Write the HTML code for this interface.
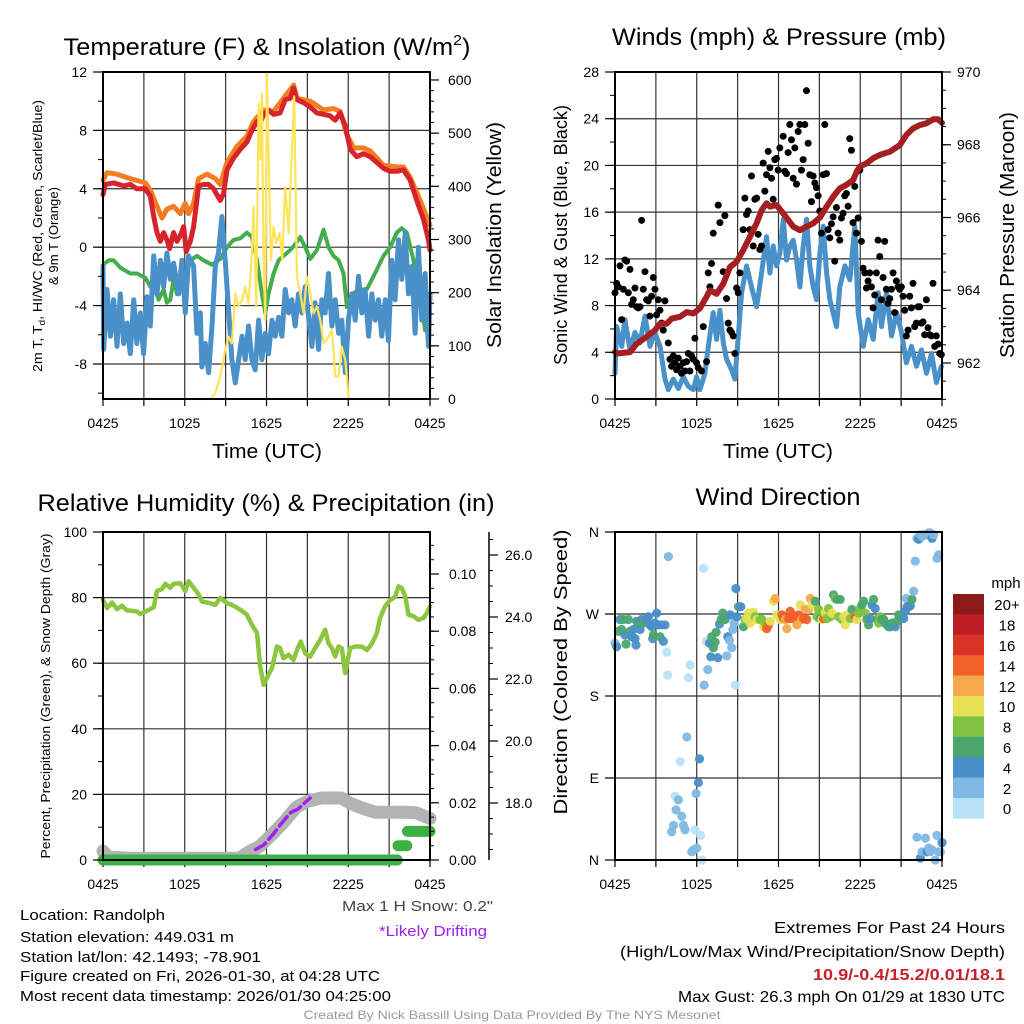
<!DOCTYPE html>
<html><head><meta charset="utf-8"><style>
html,body{margin:0;padding:0;background:#fff;}
svg{display:block;font-family:"Liberation Sans",sans-serif;}
</style></head><body>
<svg id="chart" width="1024" height="1024" viewBox="0 0 1024 1024" xmlns="http://www.w3.org/2000/svg"></svg>
<script>
// ---------------- DATA ----------------
const timeTickHours=[0,6,12,18,24];
const timeTickLabels=['0425','1025','1625','2225','0425'];
// Temperature panel
const tempTicks=[-8,-4,0,4,8,12];
const solarTicks=[0,100,200,300,400,500,600];
const t2Hours=[0,0.17,0.78,1.52,2.0,2.49,3.11,3.47,3.72,3.96,4.21,4.45,4.69,4.89,5.18,5.43,5.67,5.92,6.11,6.41,6.65,7.02,7.38,7.75,8.12,8.36,8.61,8.85,9.1,9.58,10.07,10.56,10.93,11.3,11.54,11.79,12.15,12.52,13.0,13.37,13.74,13.99,14.23,14.72,15.21,15.7,16.19,16.67,17.04,17.41,17.78,18.14,18.63,19.12,19.61,20.1,20.59,21.08,21.56,22.05,22.54,23.03,23.52,23.89,24];
const t2Vals=[3.6,4.3,4.4,4.2,4.3,4.0,4.0,3.5,2.1,1.0,0.4,1.0,0.5,-0.1,1.0,0.4,0.8,1.4,-0.3,0.4,1.4,4.2,4.3,4.3,4.0,3.6,3.2,3.7,5.3,6.1,6.7,7.2,8.0,8.6,8.5,9.1,9.4,9.1,9.2,10.1,10.2,10.9,10.1,9.9,9.6,9.2,9.1,9.0,8.7,9.2,8.3,6.7,6.2,6.4,6.2,5.8,5.4,5.2,5.2,5.3,4.6,3.2,1.9,0.5,-0.2];
const t9Hours=[0,0.29,1.03,2.0,3.11,3.47,3.96,4.33,4.69,5.18,5.67,6.04,6.28,6.65,7.02,7.63,8.24,8.61,9.1,9.83,10.56,11.05,11.79,12.52,13.25,13.99,14.23,15.21,16.19,16.92,17.41,17.9,18.39,19.12,19.61,20.59,21.56,22.05,22.54,23.28,24];
const t9Vals=[4.6,5.1,5.0,4.7,4.4,3.9,2.8,2.0,2.6,2.8,2.3,3.0,2.3,3.0,4.7,5.0,4.7,4.3,5.8,6.9,7.6,8.6,9.4,9.3,10.2,11.1,10.2,10.0,9.4,9.5,9.3,7.7,6.8,6.8,6.6,5.6,5.5,5.5,4.8,3.2,1.5];
const tdHours=[0,0.42,0.78,1.27,2.0,2.49,3.11,3.47,3.84,4.08,4.45,4.69,4.94,5.18,5.43,5.92,6.41,6.89,7.38,7.99,8.61,9.1,9.58,10.07,10.56,10.93,11.3,11.66,11.91,12.15,12.52,12.89,13.25,13.74,14.11,14.47,14.84,15.21,15.7,16.19,16.55,16.92,17.29,17.65,17.9,18.26,18.88,19.36,19.85,20.59,21.08,21.56,21.93,22.3,22.79,23.28,23.64];
const tdVals=[-1.2,-0.9,-0.9,-1.4,-1.8,-1.8,-2.1,-2.7,-2.9,-3.6,-2.9,-3.8,-3.6,-2.2,-3.2,-2.7,-0.9,-0.6,-0.9,-1.2,-0.8,0,0.5,0.6,1.0,0.7,-0.9,-3.2,-4.5,-3.2,-1.8,-0.9,-0.6,-0.2,0.2,0.7,0,-0.8,-0.2,1.2,0,-0.6,-0.9,-1.8,-4.1,-3.2,-2.9,-2.9,-2.0,-0.6,0,1.0,1.3,1.0,-0.9,-3.2,-5.7];
const wcHours=[0,0.05,0.29,0.54,0.78,1.03,1.27,1.52,1.76,2.0,2.25,2.49,2.74,2.98,3.23,3.47,3.72,3.96,4.21,4.45,4.69,4.94,5.18,5.55,5.79,6.04,6.28,6.65,6.89,7.14,7.26,7.51,7.75,8.0,8.24,8.48,8.73,8.97,9.22,9.46,9.71,9.95,10.2,10.44,10.68,10.93,11.17,11.42,11.66,11.91,12.15,12.4,12.64,12.89,13.13,13.37,13.62,13.86,14.11,14.35,14.6,14.84,15.09,15.33,15.57,15.82,16.06,16.31,16.55,16.8,17.04,17.29,17.53,17.78,18.02,18.26,18.51,18.75,19.0,19.24,19.49,19.73,19.98,20.22,20.46,20.71,20.95,21.2,21.44,21.69,21.93,22.18,22.42,22.67,22.91,23.15,23.4,23.64,23.89,24];
const wcVals=[-1.3,-7.0,-2.9,-6.1,-3.6,-6.8,-3.2,-6.6,-5.2,-7.3,-3.6,-6.6,-4.5,-7.3,-3.4,-5.4,-0.6,-3.2,-0.9,-2.7,-0.4,-2.2,-1.1,-3.2,-0.9,-4.5,-0.6,-1.3,-5.9,-4.5,-8.2,-6.6,-8.6,-5.4,-1.3,-0.4,2.1,-0.9,-4.3,-7.7,-9.3,-7.7,-6.1,-7.7,-5.4,-7.7,-8.4,-5.0,-7.7,-5.9,-7.3,-5.0,-6.1,-4.8,-6.1,-2.9,-4.5,-3.6,-5.4,-3.2,-4.5,-2.7,-4.8,-6.8,-3.8,-7.0,-3.6,-4.5,-1.8,-5.4,-3.6,-5.9,-5.0,-8.6,-5.0,-3.2,-5.0,-2.0,-4.5,-2.9,-6.1,-3.2,-5.0,-3.6,-6.1,-3.6,-6.4,-0.9,-3.6,0.5,-2.2,1.0,-3.2,-1.3,-5.9,0,-5.0,-1.8,-6.8,-3.2];
const solarHours=[0,7.87,8.24,8.61,8.97,9.22,9.46,9.71,9.95,10.2,10.44,10.68,10.93,11.05,11.25,11.42,11.54,11.66,11.79,11.91,12.03,12.18,12.32,12.52,12.71,12.96,13.15,13.37,13.62,13.86,14.03,14.23,14.47,14.72,14.96,15.21,15.45,15.7,15.94,16.19,16.43,16.8,17.04,17.29,17.53,17.78,18.02,18.14,24];
const solarVals=[0,0,11,42,92,117,105,199,174,186,211,180,274,362,174,556,450,575,261,149,613,431,261,324,293,312,261,399,312,462,569,230,199,161,230,199,161,174,149,105,111,130,42,42,98,73,4,0,0];
// Wind panel
const windTicks=[0,4,8,12,16,20,24,28];
const presTicks=[962,964,966,968,970];
const presHours=[0,0.12,1.1,1.59,2.32,2.93,3.3,3.79,4.16,4.77,5.26,5.75,6.23,6.72,6.97,7.46,7.95,8.44,8.92,9.41,9.9,10.39,10.76,11.12,11.37,11.86,12.35,13.08,13.57,14.06,14.55,15.04,15.53,16.01,16.5,16.99,17.48,17.73,17.97,18.46,18.95,19.44,20.17,20.9,21.39,21.88,22.37,22.86,23.35,23.72,24];
const presVals=[962.3,962.26,962.3,962.53,962.72,962.9,963.08,963.08,963.22,963.27,963.4,963.36,963.5,963.82,964.0,963.9,964.18,964.64,964.78,965.1,965.47,965.84,966.2,966.39,966.3,966.34,966.11,965.75,965.65,965.75,965.84,966.0,966.3,966.57,966.8,966.9,967.03,967.26,967.4,967.49,967.63,967.72,967.81,967.99,968.27,968.45,968.54,968.59,968.7,968.7,968.6];
const windHours=[0,0.12,0.49,0.73,1.1,1.47,1.83,2.2,2.57,2.93,3.3,3.67,3.91,4.28,4.65,5.01,5.38,5.75,5.99,6.23,6.6,6.85,7.21,7.46,7.7,7.95,8.19,8.56,8.8,9.05,9.29,9.66,10.02,10.39,10.76,11.12,11.37,11.61,11.86,12.1,12.35,12.59,12.84,13.08,13.33,13.57,13.81,14.06,14.3,14.55,14.79,15.04,15.28,15.53,15.77,16.01,16.26,16.5,16.87,17.24,17.6,17.85,18.22,18.58,18.95,19.32,19.56,19.93,20.29,20.66,21.03,21.39,21.76,22.13,22.49,22.86,23.23,23.59,23.96];
const windVals=[2.2,6.2,4.5,6.8,4.2,5.7,4.8,7.1,4.5,5.7,4.5,1.7,0.8,1.7,0.9,1.9,1.1,0.8,1.9,0.8,2.2,4.5,7.4,5.1,7.6,4.8,3.4,2.5,1.7,5.4,9.1,11.4,9.6,7.9,10.8,13.9,10.8,13.1,11.4,12.5,15.4,11.9,13.1,13.6,11.9,9.6,13.1,15.4,11.4,9.6,8.5,12.5,14.8,10.8,8.5,7.4,6.2,9.6,11.4,10.2,14.8,7.4,4.5,6.8,5.1,9.1,6.2,9.1,5.4,7.4,5.7,3.1,4.5,2.8,4.2,2.2,3.9,1.4,2.8];
const gustStartHour=0;
const gustStepHours=0.1222;
const gustVals=[9.1,9.9,9.6,11.4,6.8,9.4,11.9,11.8,9.1,11.1,8.1,8.5,9.5,7.9,7.8,7.9,15.3,9.4,10.9,8.5,8.4,7.1,8.8,10.4,9.4,7.2,8.5,7.6,6.5,5.9,8.4,null,4.8,3.4,2.8,3.7,3.1,2.5,3.5,2.8,2.2,3.1,2.4,3.2,3.9,2.4,3.7,3.4,5.2,3.1,2.7,null,2.4,6.2,null,3.2,10.8,9.6,11.6,14.2,null,9.1,16.6,15.1,null,10.9,15.7,8.6,6.5,5.9,5.7,5.4,3.9,9.5,9.1,10.8,null,14.5,17.2,15.8,16.1,14.5,19.1,13.1,17.1,17.2,14.1,12.8,13.1,20.2,17.8,19.2,21.2,19.8,18.9,17.1,20.5,20.6,19.6,21.5,null,22.5,19.5,19.3,21.1,23.5,22.2,18.9,21.5,18.4,22.9,23.5,19.6,20.5,23.5,26.4,21.9,19.2,16.9,19.1,18.5,18.1,17.4,16.1,14.2,19.2,23.5,19.3,14.5,13.8,15.0,15.6,11.8,16.4,14.2,13.6,15.5,15.9,17.4,17.6,16.5,22.3,21.3,15.1,18.2,14.2,15.5,19.6,13.5,11.2,10.8,9.5,10.1,10.8,9.6,7.8,8.9,10.8,13.6,12.2,8.5,10.4,13.5,9.4,8.2,8.6,9.4,10.8,7.4,10.1,9.6,9.4,9.6,8.8,7.6,5.4,5.9,8.8,7.8,9.9,6.2,6.5,7.9,7.9,6.5,6.6,5.5,8.5,6.1,5.5,5.4,9.9,4.5,5.4,4.7,3.9,3.8];
// RH / precip / snow panel
const rhTicks=[0,20,40,60,80,100];
const precipTicks=[0,0.02,0.04,0.06,0.08,0.10];
const snowTicks=[18,20,22,24,26];
const rhHours=[0,0.3,0.66,1.03,1.39,1.76,2.49,2.74,3.23,3.72,3.96,4.33,4.57,4.94,5.18,5.67,6.04,6.28,6.65,7.02,7.26,7.87,8.24,8.6,9.1,9.46,10.07,10.56,10.93,11.3,11.54,11.79,12.15,12.4,12.76,13.0,13.25,13.62,13.98,14.23,14.52,14.84,15.2,15.57,15.94,16.3,16.55,16.8,17.04,17.28,17.53,17.77,18.14,18.5,19.0,19.36,19.73,20.1,20.34,20.7,21.08,21.44,21.69,21.93,22.18,22.42,22.79,23.16,23.52,23.77,24];
const rhVals=[79.3,76.8,78.5,76.5,77.5,76.1,75.8,75,76,77,82,82.6,84.2,83,84.2,84.4,82,85,83,81,78.8,78.3,77.8,79.9,78.3,77.8,76.3,74.8,71.7,69.2,59,53.4,56.5,58.5,65.1,64.6,61.5,62.6,61,64,66.6,63,62,64.6,67.1,70.2,66.1,64.6,62,65.1,64.6,57,64.6,65.1,65.1,64,65.9,69.2,73.8,77.3,79.3,80.2,83.4,82.9,80.4,74.8,74.3,73.2,73.8,75.3,77.3];
const snowHours=[0,0.4,2,4,6,8,10,10.8,11.5,12.5,13.3,14.2,15,16,17.5,18.1,19,20,21,22.3,23,24];
const snowVals=[16.45,16.25,16.22,16.22,16.22,16.22,16.22,16.45,16.6,17.03,17.4,17.87,18.05,18.16,18.16,18.0,17.84,17.7,17.7,17.7,17.68,17.5];
const driftHours=[11.2,11.8,12.5,13.2,13.8,14.3,14.8,15.2];
const driftVals=[16.5,16.65,17.0,17.4,17.7,17.8,18.0,18.16];
const precipHours=[0,21.6,21.65,22.3,22.35,24];
const precipVals=[0,0,0.005,0.005,0.01,0.01];
// Wind direction panel
const dirTickDeg=[0,90,180,270,360];
const dirTickLabels=['N','E','S','W','N'];
const speedBinLabels=['0','2','4','6','8','10','12','14','16','18','20+'];
const dirHours=[0,0.12,0.24,0.37,0.49,0.61,0.73,0.81,0.98,1.10,1.22,1.35,1.47,1.54,1.59,1.71,1.84,1.96,2.08,2.20,2.33,2.45,2.57,2.69,2.77,2.82,2.94,3.06,3.18,3.31,3.43,3.55,3.67,3.80,3.92,3.87,
4.41,4.16,4.29,4.48,4.65,4.78,4.90,5.02,5.14,5.27,5.39,5.51,5.63,5.76,5.88,5.95,6.00,6.12,6.20,6.29,6.37,6.49,6.54,6.69,6.81,6.93,7.03,7.10,7.22,7.35,7.42,7.54,7.67,7.79,7.91,8.08,8.20,8.28,8.40,8.45,8.57,8.65,8.74,8.82,8.87,8.94,9.06,9.23,
9.43,9.55,9.67,9.80,9.92,10.04,10.16,10.29,10.41,10.65,10.78,10.90,11.02,11.14,11.27,11.39,11.63,11.76,11.88,12.12,12.25,12.37,12.49,12.61,12.74,12.86,12.98,13.10,13.23,13.35,13.47,13.59,13.72,13.84,13.96,14.08,14.21,14.33,14.45,14.57,14.70,14.82,14.94,15.06,15.18,15.31,15.43,15.55,15.67,15.80,15.92,16.04,16.16,16.29,16.41,16.53,16.65,16.78,16.90,17.02,17.14,17.27,17.39,17.51,17.63,17.76,17.88,18.00,18.12,18.25,18.37,18.49,18.61,18.74,18.86,18.98,19.10,19.23,19.35,19.47,19.59,19.72,19.84,19.96,20.08,20.21,20.33,20.45,20.57,20.70,20.82,20.94,21.06,
21.19,21.31,21.38,21.43,21.55,21.68,21.80,21.92,22.04,22.16,22.29,22.41,22.53,22.65,22.90,23.02,23.14,23.27,23.39,23.63,23.76,22.16,22.41,22.53,22.78,22.90,23.02,23.14,23.27,23.51,23.63,23.76,23.88,24.0];
const dirDeg=[238,234,251,264,253,264,247,237,264,251,245,253,243,236,262,260,253,264,260,262,264,267,258,256,243,247,260,271,258,245,258,240,258,228,333,203,
70,31,38,55,66,108,48,38,33,135,200,214,9,11,33,73,13,85,111,27,0,320,192,240,209,238,223,245,233,239,250,222,259,264,271,264,224,245,241,269,233,253,260,192,298,267,278,278,
256,264,265,271,260,269,272,267,264,264,264,256,260,254,258,262,284,287,269,264,269,265,264,254,265,273,265,268,264,258,269,280,264,265,275,264,275,287,280,282,284,267,275,265,264,265,271,265,276,267,271,291,287,286,267,286,264,267,258,269,267,265,275,267,267,264,271,276,280,284,271,264,258,265,280,286,276,264,260,267,264,264,260,258,256,256,260,258,256,262,269,267,269,
265,273,287,278,278,279,286,295,328,353,352,357,355,357,357,359,359,353,357,331,335,25,2,9,24,9,13,9,11,0,27,9,9,19];
const dirSpeed=[3,4,6,4,7,6,5,7,6,6,5,4,4,4,5,7,4,5,6,7,4,4,5,4,4,6,4,4,5,6,4,4,4,1,3,1,
1,2,3,2,2,1,2,3,2,3,1,1,2,3,1,2,3,4,4,1,1,1,2,1,3,4,4,6,6,6,7,4,4,7,6,6,3,4,3,4,3,3,2,1,4,5,6,4,
7,8,10,10,10,10,10,9,10,8,9,10,8,15,14,10,10,12,10,10,14,15,12,12,15,14,14,15,15,12,15,10,12,14,12,14,12,12,10,10,6,8,8,7,10,15,10,9,8,9,10,6,8,7,8,6,9,10,10,10,10,9,6,8,15,10,9,8,7,6,8,6,6,5,4,6,4,7,8,8,7,6,6,6,5,6,7,6,4,6,6,6,7,
5,4,3,4,4,4,6,3,3,3,4,2,2,2,2,3,2,4,2,2,2,3,4,2,2,4,3,2,2,2,2,2,3,4];
</script>
<script>
const NS='http://www.w3.org/2000/svg';
const svg=document.getElementById('chart');
function mk(tag,attrs,parent){const e=document.createElementNS(NS,tag);for(const k in attrs)e.setAttribute(k,attrs[k]);(parent||svg).appendChild(e);return e;}
function txt(s,attrs,parent){const t=mk('text',attrs,parent);t.textContent=s;return t;}
function lin(d0,d1,r0,r1){return v=>r0+(v-d0)*(r1-r0)/(d1-d0);}
const P1={x0:103,x1:430,y0:72,y1:399},P2={x0:615,x1:942,y0:72,y1:399},P3={x0:103,x1:430,y0:532,y1:860},P4={x0:615,x1:942,y0:532,y1:860};
[P1,P2,P3,P4].forEach(P=>{P.x=lin(0,24,P.x0,P.x1);});
const yT=lin(-10.4,12,399,72), yS=lin(0,615,399,72);
const yW=lin(0,28,399,72), yP=lin(961.01,970,399,72);
const yR=lin(0,100,860,532), yPr=lin(0,0.1,860,574), ySn=lin(18,26,803,555);
const yD=lin(0,360,860,532);
function pathD(P,hs,vs,ys){let d='';const n=Math.min(hs.length,vs.length);for(let i=0;i<n;i++){if(vs[i]==null)continue;d+=(d?'L':'M')+P.x(hs[i]).toFixed(1)+','+ys(vs[i]).toFixed(1);}return d;}

function panel(P,name,hTicks,yfun){
  const g=mk('g',{});
  
  
  for(let h=3;h<24;h+=3){const l=mk('line',{x1:P.x(h),x2:P.x(h),y1:P.y0,y2:P.y1,stroke:'#333','stroke-width':1.2},g);}
  hTicks.forEach(v=>{const y=yfun(v);if(Math.abs(y-P.y0)<1||Math.abs(y-P.y1)<1)return;const l=mk('line',{x1:P.x0,x2:P.x1,y1:y,y2:y,stroke:'#333','stroke-width':1.2},g);});
  for(let h=0;h<=24;h+=3){mk('line',{x1:P.x(h),x2:P.x(h),y1:P.y1,y2:P.y1+7,stroke:'#000','stroke-width':1.2},g);}
  timeTickHours.forEach((h,i)=>{const t=txt(timeTickLabels[i],{x:P.x(h),y:P.y1+29,'font-size':14,'text-anchor':'middle',fill:'#000'},g);});
  return g;
}
function frame(P,name){const r=mk('rect',{x:P.x0,y:P.y0,width:P.x1-P.x0,height:P.y1-P.y0,fill:'none',stroke:'#000','stroke-width':2});}
function leftAxis(P,ticks,yfun,labels,minorStep,lo,hi){
  ticks.forEach((v,i)=>{const y=yfun(v);mk('line',{x1:P.x0-10,x2:P.x0,y1:y,y2:y,stroke:'#000','stroke-width':1.2});const t=txt(labels?labels[i]:String(v),{x:P.x0-16,y:y+5,'font-size':14,'text-anchor':'end'});});
  if(minorStep){for(let v=lo;v<=hi+1e-9;v+=minorStep){const y=yfun(v);if(y<P.y0-0.5||y>P.y1+0.5)continue;mk('line',{x1:P.x0-5,x2:P.x0,y1:y,y2:y,stroke:'#000','stroke-width':1});}}
}
function rightAxis(ax,y0,y1,ticks,yfun,fmt,minorStep,lo,hi,labelX,name){
  const g=mk('g',{});
  
  
  mk('line',{x1:ax,x2:ax,y1:y0,y2:y1,stroke:'#000','stroke-width':1.5},g);
  for(let v=lo;v<=hi+1e-9;v+=minorStep){const y=yfun(v);if(y<y0-0.5||y>y1+0.5)continue;mk('line',{x1:ax,x2:ax+4,y1:y,y2:y,stroke:'#000','stroke-width':1},g);}
  ticks.forEach(v=>{const y=yfun(v);mk('line',{x1:ax,x2:ax+9,y1:y,y2:y,stroke:'#000','stroke-width':1.2},g);const t=txt(fmt(v),{x:labelX,y:y+5,'font-size':14},g);});
}
function series(P,hs,vs,ys,color,w,name,extra){const p=mk('path',Object.assign({d:pathD(P,hs,vs,ys),fill:'none',stroke:color,'stroke-width':w,'stroke-linejoin':'round','stroke-linecap':'round'},extra||{}));return p;}
function vlabel(s,x,y,size,len,name){const t=txt(s,{x:0,y:0,'font-size':size,'text-anchor':'middle',transform:`translate(${x},${y}) rotate(-90)`,textLength:len,lengthAdjust:'spacingAndGlyphs'});return t;}

// ===== Panel 1 =====
panel(P1,'temperature',tempTicks,yT);
series(P1,t9Hours,t9Vals,yT,'#f47d22',5,'9m-temperature-line');
series(P1,t2Hours,t2Vals,yT,'#d8232a',5,'2m-temperature-line');
series(P1,tdHours,tdVals,yT,'#42ad4a',4,'dewpoint-line');
series(P1,wcHours,wcVals,yT,'#4a90c9',5,'wind-chill-line');
series(P1,solarHours,solarVals,yS,'#ffe45a',2.2,'solar-insolation-line');
frame(P1,'temperature');
leftAxis(P1,tempTicks,yT,null,2,-10,12);
rightAxis(P1.x1,P1.y0,P1.y1,solarTicks,yS,v=>String(v),20,0,600,448,'solar-axis');
{const t=txt('',{x:267,y:55,'font-size':24,'text-anchor':'middle',textLength:407,lengthAdjust:'spacingAndGlyphs'});t.innerHTML='Temperature (F) &amp; Insolation (W/m<tspan font-size="15" dy="-10">2</tspan><tspan dy="10">)</tspan>';}
{const t=txt('',{x:0,y:0,'font-size':13,'text-anchor':'middle',transform:'translate(42,236) rotate(-90)',textLength:272,lengthAdjust:'spacingAndGlyphs'});t.innerHTML='2m T, T<tspan font-size="9" dy="3">d</tspan><tspan dy="-3">, HI/WC (Red, Green, Scarlet/Blue)</tspan>';}
vlabel('& 9m T (Orange)',58,236,13,98,'temperature-y-axis-title-line2');
vlabel('Solar Insolation (Yellow)',501,235,20,226,'solar-axis-title');
{const t=txt('Time (UTC)',{x:267,y:458,'font-size':20,'text-anchor':'middle',textLength:110,lengthAdjust:'spacingAndGlyphs'});}

// ===== Panel 2 =====
panel(P2,'winds',windTicks,yW);
series(P2,windHours,windVals,yW,'#4a90c9',5,'sonic-wind-line');
for(let i=0;i<gustVals.length;i++){if(gustVals[i]==null)continue;const c=mk('circle',{cx:P2.x(gustStartHour+i*gustStepHours),cy:yW(gustVals[i]),r:3.5,fill:'#000'});}
series(P2,presHours,presVals,yP,'#a41e22',6,'station-pressure-line');
frame(P2,'winds');
leftAxis(P2,windTicks,yW,null,2,0,28);
rightAxis(P2.x1,P2.y0,P2.y1,presTicks,yP,v=>String(v),0.5,961,970,957,'pressure-axis');
{const t=txt('Winds (mph) & Pressure (mb)',{x:779,y:45,'font-size':24,'text-anchor':'middle',textLength:334,lengthAdjust:'spacingAndGlyphs'});}
vlabel('Sonic Wind & Gust (Blue, Black)',567,235,18,260,'wind-y-axis-title');
vlabel('Station Pressure (Maroon)',1014,235,20,246,'pressure-axis-title');
{const t=txt('Time (UTC)',{x:778,y:458,'font-size':20,'text-anchor':'middle',textLength:110,lengthAdjust:'spacingAndGlyphs'});}

// ===== Panel 3 =====
panel(P3,'humidity',rhTicks,yR);
series(P3,rhHours,rhVals,yR,'#8cc63f',4.5,'relative-humidity-line');
series(P3,snowHours,snowVals,ySn,'#b3b3b3',13,'snow-depth-line');
series(P3,driftHours,driftVals,ySn,'#a020f0',3.5,'drifting-snow-line',{'stroke-dasharray':'12 5'});
{let d='';for(let i=0;i<precipHours.length;i++){const x=P3.x(precipHours[i]).toFixed(1),y=yPr(precipVals[i]).toFixed(1);d+=(i===0||precipVals[i]!==precipVals[i-1])?'M'+x+','+y:'L'+x+','+y;}
const p=mk('path',{d:d,fill:'none',stroke:'#3cb043','stroke-width':11,'stroke-linecap':'round'});}
frame(P3,'humidity');
leftAxis(P3,rhTicks,yR,null,10,0,100);
rightAxis(P3.x1,P3.y0,P3.y1,precipTicks,yPr,v=>v.toFixed(2),0.005,0,0.115,449,'precipitation-axis');
rightAxis(489,532,860,snowTicks,ySn,v=>v.toFixed(1),0.5,16,26.5,505,'snow-depth-axis');
{const t=txt('Relative Humidity (%) & Precipitation (in)',{x:266,y:511,'font-size':24,'text-anchor':'middle',textLength:457,lengthAdjust:'spacingAndGlyphs'});}
vlabel('Percent, Precipitation (Green), & Snow Depth (Gray)',50,696,13,325,'humidity-y-axis-title');

// ===== Panel 4 =====
panel(P4,'direction',dirTickDeg,yD);
const binColors=['#b8e2f7','#7fb9e3','#4a8fc7','#4aa66d','#80c342','#e6e054','#f5a94b','#ef6129','#d93227','#bd1e24','#8c1a1b'];
for(let i=0;i<Math.min(dirHours.length,dirDeg.length,dirSpeed.length);i++){const b=Math.min(10,Math.floor(dirSpeed[i]/2));const c=mk('circle',{cx:P4.x(dirHours[i]),cy:yD(dirDeg[i]),r:4.6,fill:binColors[b],'fill-opacity':0.95});}
frame(P4,'direction');
leftAxis(P4,dirTickDeg,yD,dirTickLabels,0,0,0);
{const t=txt('Wind Direction',{x:778,y:505,'font-size':24,'text-anchor':'middle',textLength:165,lengthAdjust:'spacingAndGlyphs'});}
vlabel('Direction (Colored By Speed)',567,672,18,285,'direction-y-axis-title');
// colorbar
{const g=mk('g',{});
const top=594,bh=20.4;
for(let i=0;i<11;i++){const b=10-i;const r=mk('rect',{x:953,y:top+i*bh,width:31,height:bh+0.3,fill:binColors[b]},g);
const t=txt(speedBinLabels[b],{x:1007,y:top+i*bh+bh/2+6,'font-size':15,'text-anchor':'middle'},g);}
const m=txt('mph',{x:1006,y:588,'font-size':15,'text-anchor':'middle'},g);}

// ===== Footer text =====
const info=[['Location: Randolph',920,145],['Station elevation: 449.031 m',942,214],['Station lat/lon: 42.1493; -78.901',962,241],['Figure created on Fri, 2026-01-30, at 04:28 UTC',981,360],['Most recent data timestamp: 2026/01/30 04:25:00',1001,371]];
info.forEach(a=>{const t=txt(a[0],{x:20,y:a[1],'font-size':15,textLength:a[2],lengthAdjust:'spacingAndGlyphs'});});
{const t=txt('Max 1 H Snow: 0.2"',{x:493,y:911,'font-size':15,'text-anchor':'end',fill:'#444',textLength:151,lengthAdjust:'spacingAndGlyphs'});}
{const t=txt('*Likely Drifting',{x:487,y:936,'font-size':15,'text-anchor':'end',fill:'#a020f0',textLength:108,lengthAdjust:'spacingAndGlyphs'});}
{const t=txt('Extremes For Past 24 Hours',{x:1005,y:933,'font-size':16,'text-anchor':'end',textLength:231,lengthAdjust:'spacingAndGlyphs'});}
{const t=txt('(High/Low/Max Wind/Precipitation/Snow Depth)',{x:1005,y:957,'font-size':16,'text-anchor':'end',textLength:385,lengthAdjust:'spacingAndGlyphs'});}
{const t=txt('10.9/-0.4/15.2/0.01/18.1',{x:1005,y:980,'font-size':16,'font-weight':'bold','text-anchor':'end',fill:'#c8202a',textLength:192,lengthAdjust:'spacingAndGlyphs'});}
{const t=txt('Max Gust: 26.3 mph On 01/29 at 1830 UTC',{x:1005,y:1002,'font-size':16,'text-anchor':'end',textLength:327,lengthAdjust:'spacingAndGlyphs'});}
{const t=txt('Created By Nick Bassill Using Data Provided By The NYS Mesonet',{x:512,y:1019,'font-size':12,'text-anchor':'middle',fill:'#999',textLength:417,lengthAdjust:'spacingAndGlyphs'});}
</script>
</body></html>
